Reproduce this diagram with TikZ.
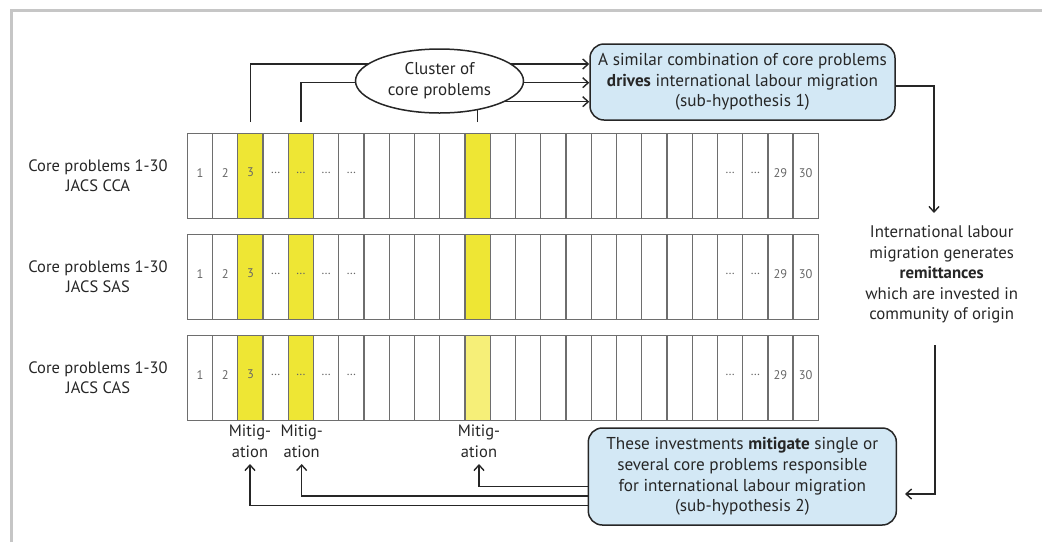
\documentclass[tikz,border=0pt]{standalone}
\usepackage{fontspec}
\setmainfont{PT Sans}
\usetikzlibrary{arrows.meta,shapes.geometric,positioning,calc}
\definecolor{ink}{HTML}{262626}
\definecolor{cellline}{HTML}{6E6E6E}
\definecolor{ylw}{HTML}{EEE634}
\definecolor{ylwlight}{HTML}{F6EF78}
\definecolor{boxblue}{HTML}{D3E8F5}
\definecolor{framegray}{HTML}{C6C6C6}
\tikzset{
  cellbox/.style={draw=cellline, line width=1.3pt, minimum width=25.24pt, minimum height=85pt, inner sep=0pt, anchor=north west},
  celltext/.style={font=\fontsize{12.5}{13}\selectfont, text=black!60, inner sep=0pt},
  arr/.style={draw=ink, line width=1.5pt, -{Straight Barb[length=5.5pt,width=10pt,line width=1.4pt]}},
  hypbox/.style={draw=ink, line width=1.5pt, fill=boxblue, rounded corners=14pt, align=center, inner sep=0pt, font=\fontsize{17.2}{20.7}\selectfont, text=ink},
  lbl/.style={align=center, inner sep=0pt, font=\fontsize{16.8}{20.5}\selectfont, text=ink},
  mitig/.style={align=center, inner sep=0pt, font=\fontsize{16.5}{21.5}\selectfont, text=ink},
}
\begin{document}
\begin{tikzpicture}[x=1pt,y=-1pt]
\useasboundingbox (0,0) rectangle (1042,542);
\draw[framegray, line width=2.6pt] (11.5,542) -- (11.5,10.5) -- (1042,10.5);

% rows of cells
\foreach \r/\top/\nm in {1/133/CCA,2/234/SAS,3/335/CAS}{
  \foreach \i in {1,...,25}{
    \pgfmathsetmacro{\xx}{186.7+(\i-1)*25.24}
    \node[cellbox] (r\r c\i) at (\xx,\top) {};
  }
  \node[lbl, font=\fontsize{16.5}{20}\selectfont] (lab\r) at (98,\top+42.5) {Core problems 1-30\\JACS \nm};
}
% yellow cells
\foreach \r in {1,2,3}{
  \node[cellbox, fill=ylw] at (r\r c3.north west) {};
  \node[cellbox, fill=ylw] at (r\r c5.north west) {};
}
\node[cellbox, fill=ylw] at (r1c12.north west) {};
\node[cellbox, fill=ylw] at (r2c12.north west) {};
\node[cellbox, fill=ylwlight] at (r3c12.north west) {};
% cell texts
\foreach \r in {1,2,3}{
  \foreach \i/\t in {1/1,2/2,3/3,4/\dots,5/\dots,6/\dots,7/\dots,22/\dots,23/\dots,24/29,25/30}{
    \node[celltext] at ([yshift=3.5pt]r\r c\i.center) {\t};
  }
}

% top hypothesis box
\node[hypbox, minimum width=305pt, minimum height=76pt] (box1) at (742.5,82) {A similar combination of core problems\\\textbf{drives} international labour migration\\(sub-hypothesis 1)};

% arrows from highlighted cells to box1
\draw[arr] ([yshift=11pt]r1c3.north) |- ([yshift=18pt]box1.west);
\draw[arr] ([yshift=11pt]r1c5.north) |- ([yshift=-0.7pt]box1.west);
\draw[arr] ([yshift=11pt]r1c12.north) |- ([yshift=-19.7pt]box1.west);

\node[ellipse, draw=ink, line width=1.5pt, fill=white, minimum width=168pt, minimum height=64pt, inner sep=0pt, align=center, font=\fontsize{17}{21}\selectfont, text=ink] (cluster) at (439.5,81) {Cluster of\\core problems};

% right side
\node[lbl] (remit) at (941.7,274.5) {International labour\\migration generates\\\textbf{remittances}\\which are invested in\\community of origin};
\coordinate (c1) at (934,213);
\coordinate (c2) at (935,345);
\draw[arr] ([yshift=-4pt]box1.east) -| (c1);

% bottom hypothesis box
\node[hypbox, minimum width=308pt, minimum height=97pt] (box2) at (742.3,476.5) {These investments \textbf{mitigate} single or\\several core problems responsible\\for international labour migration\\(sub-hypothesis 2)};
\draw[arr] (c2) |- ([xshift=8pt,yshift=-17.5pt]box2.east);

% mitigation labels
\node[mitig] (m1) at (250,441) {Mitig-\\ation};
\node[mitig] (m2) at (301.7,441) {Mitig-\\ation};
\node[mitig] (m3) at (479,441) {Mitig-\\ation};
\coordinate (t1) at (250,464);
\coordinate (t2) at (301.7,464);
\coordinate (t3) at (479,464);
\draw[arr] ([yshift=-10pt]box2.west) -| (t3);
\draw[arr] ([yshift=-19.5pt]box2.west) -| (t2);
\draw[arr] ([yshift=-29pt]box2.west) -| (t1);
\end{tikzpicture}
\end{document}
